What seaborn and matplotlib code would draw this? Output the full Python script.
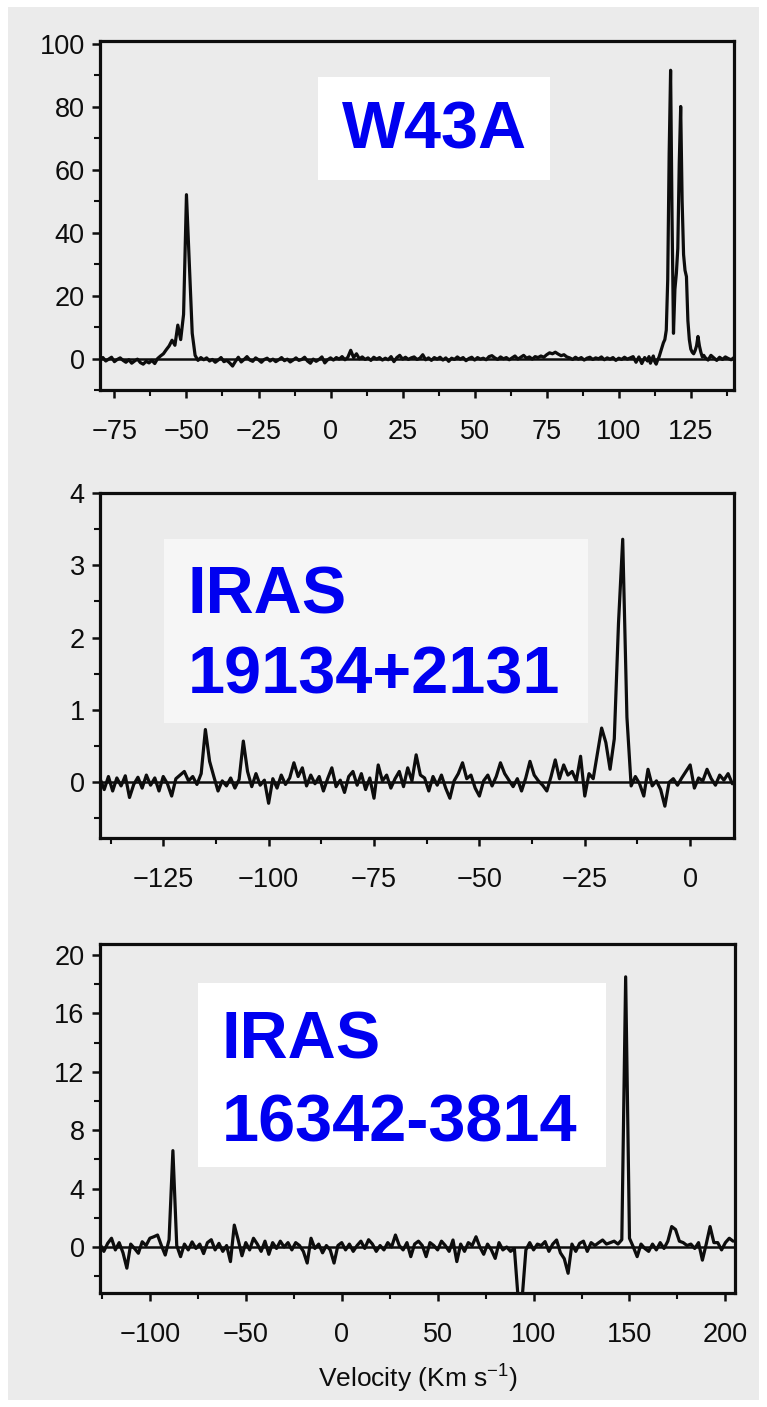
import numpy as np
import pandas as pd
import matplotlib
matplotlib.use("Agg")
import matplotlib.pyplot as plt
import seaborn as sns
from matplotlib.patches import Rectangle
from matplotlib.ticker import MultipleLocator

# ---------------- data ----------------
# W43A : velocity channels (km/s) and flux
vel_w43a = np.concatenate([np.arange(-80, 110, 1.0),
                           np.arange(110, 130, 0.5),
                           np.arange(130, 141, 1.0)])
flux_w43a = [
    -0.5, 0.3, -0.8, -0.2, 0.4, -1.0, -0.3, 0.2, -0.6, -1.2,
    -0.4, -1.5, -0.8, -0.2, -1.3, -1.8, -0.9, -1.4, -0.6, -1.6,
    0.0, 0.8, 1.5, 2.8, 4.0, 5.8, 4.2, 10.6, 6.0, 14.0,
    52.0, 30.0, 8.0, 1.0, -0.6, 0.3, -0.4, 0.2, -0.8, -0.3,
    -1.2, -0.5, 0.3, -1.0, -0.6, -1.4, -2.4, -0.9, 0.4, -1.1,
    -0.3, 0.6, -0.5, -0.9, 0.2, -0.4, -1.2, -0.3, 0.1, -0.8,
    -0.2, -1.0, -0.4, 0.3, -0.7, -0.2, -1.1, -0.5, 0.2, -0.6,
    -0.3, 0.4, -0.8, -1.5, -0.2, -0.9, -0.3, 0.5, -1.4, -0.4,
    0.2, -0.5, 0.3, -0.2, 0.6, -0.4, 0.4, 2.6, 0.3, 1.5,
    -0.1, 0.5, -0.3, 0.2, -0.6, 0.4, -0.2, 0.3, -0.5, 0.1,
    -0.4, 0.6, -1.0, 0.3, 1.0, -0.2, 0.4, -0.3, 0.2, 0.5,
    -0.3, 0.1, 1.2, -0.4, 0.2, -0.6, 0.3, -0.2, 0.4, -0.5,
    0.2, -0.9, 0.1, -0.3, 0.5, -0.2, 0.3, -0.7, 0.0, 0.4,
    -0.5, 0.3, -0.2, 0.1, -0.4, 0.6, 0.9, 0.2, -0.3, 0.5,
    -0.1, 0.3, -0.4, 0.2, 0.8, -0.2, 0.4, 1.0, 0.1, 0.5,
    -0.2, 0.6, 0.3, 0.8, 0.4, 1.2, 1.8, 1.5, 2.0, 1.4,
    0.9, 1.2, 0.5, 0.2, -0.3, 0.4, -0.2, 0.3, -0.5, 0.1,
    0.4, -0.3, 0.2, -0.1, 0.5, -0.4, 0.2, -0.2, 0.3, -0.6,
    0.1, -0.3, 0.4, -0.2, 0.2, 0.6, -1.2, 0.5, -1.6, 0.3,
    # 110 .. 129.5 (0.5 km/s channels)
    -0.8, 0.6, -1.5, -0.4, 0.8, -1.0, -1.8, -0.5, 0.5, 2.0,
    3.5, 5.0, 6.0, 9.0, 25.0, 65.0, 91.5, 45.0, 8.0, 22.0,
    27.0, 35.0, 62.0, 80.0, 50.0, 33.0, 28.0, 26.0, 12.0, 6.0,
    3.0, 2.0, 1.5, 2.5, 4.0, 7.0, 4.0, 2.0, 0.5, 1.0,
    # 130 .. 140
    0.3, -0.5, 1.0, 0.2, -0.6, 0.4, -0.3, 0.5, 0.0, -0.4, 0.3,
]

# IRAS 19134+2131
vel_19134 = np.arange(-140, 11, 1.0)
flux_19134 = [
    0.05, -0.10, 0.08, -0.12, 0.06, -0.05, 0.09, -0.21, -0.03, 0.07,
    -0.08, 0.10, -0.04, 0.06, -0.12, 0.08, -0.02, -0.19, 0.05, 0.10,
    0.15, 0.02, 0.08, -0.03, 0.12, 0.73, 0.29, 0.08, -0.12, 0.02,
    -0.05, 0.06, -0.08, 0.04, 0.57, 0.15, -0.06, 0.12, -0.04, 0.03,
    -0.29, 0.05, -0.08, 0.10, -0.03, 0.06, 0.27, 0.08, 0.20, -0.05,
    0.10, -0.02, 0.08, -0.12, 0.05, 0.20, -0.06, 0.03, -0.14, 0.08,
    0.15, -0.04, 0.12, -0.10, 0.06, -0.22, 0.24, 0.02, 0.10, -0.08,
    0.05, 0.15, -0.06, 0.20, 0.02, 0.38, 0.10, 0.06, -0.12, 0.08,
    -0.04, 0.10, -0.08, -0.22, 0.02, 0.12, 0.27, 0.05, 0.10, -0.08,
    -0.19, 0.02, 0.10, -0.05, 0.08, 0.27, 0.12, 0.03, -0.06, 0.05,
    -0.12, 0.06, 0.29, 0.10, 0.02, -0.04, -0.12, 0.08, 0.31, 0.05,
    0.24, 0.10, 0.15, 0.02, 0.36, -0.19, 0.12, 0.05, 0.40, 0.75,
    0.55, 0.18, 0.60, 2.20, 3.36, 0.90, -0.05, 0.08, -0.02, -0.19,
    0.18, -0.05, 0.02, -0.10, -0.33, 0.00, 0.05, -0.04, 0.06, 0.15,
    0.24, -0.08, 0.06, 0.02, 0.18, 0.05, -0.04, 0.10, 0.03, 0.12, -0.02,
]

# IRAS 16342-3814
vel_16342 = np.arange(-126, 205, 2.0)
flux_16342 = [
    0.2, -0.3, 0.25, 0.6, -0.2, 0.3, -0.4, -1.45, 0.2, -0.1,
    -0.43, 0.36, 0.1, 0.6, 0.7, 0.82, 0.1, -0.55, 0.5, 6.6,
    0.1, -0.66, 0.2, -0.2, 0.35, -0.1, 0.2, -0.45, 0.3, 0.5,
    -0.2, 0.25, -0.3, 0.1, -1.0, 1.5, 0.5, -0.6, 0.3, -0.2,
    0.6, 0.2, -0.3, 0.4, -0.5, 0.3, -0.1, 0.4, 0.0, 0.3,
    -0.2, 0.3, 0.1, -0.3, -1.1, 0.6, -0.1, 0.2, -0.4, 0.1,
    -0.2, -1.1, 0.1, 0.3, -0.2, 0.2, -0.3, 0.1, 0.4, -0.1,
    0.5, 0.2, -0.3, 0.1, -0.2, 0.3, 0.0, 0.82, 0.1, -0.2,
    0.3, -0.66, 0.2, 0.4, 0.1, -0.66, 0.3, 0.1, -0.2, 0.4,
    0.1, -0.3, 0.48, -1.0, 0.2, -0.3, 0.3, 0.1, 0.7, 0.0,
    -0.5, 0.2, -0.2, -0.78, 0.3, -0.2, 0.0, -0.3, -0.1, -3.6,
    -3.6, -0.2, 0.3, -0.2, 0.2, 0.1, 0.37, -0.3, 0.2, 0.48,
    -0.4, -0.8, -1.8, 0.2, -0.3, 0.25, 0.4, -0.3, 0.3, 0.1,
    0.3, 0.48, 0.2, 0.3, 0.4, 0.2, 0.5, 18.5, 0.6, 0.0,
    -0.66, 0.2, -0.1, -0.3, 0.2, -0.2, 0.3, -0.1, 0.4, 1.4,
    1.2, 0.4, 0.3, 0.1, 0.2, -0.1, 0.3, -0.9, 0.2, 1.4,
    0.3, 0.3, -0.2, 0.3, 0.6, 0.4,
]

names = ["W43A", "IRAS\n19134+2131", "IRAS\n16342-3814"]

# ---------------- style ----------------
sns.set_theme(style="ticks")
plt.rcParams["font.family"] = ["Liberation Sans", "DejaVu Sans"]
plt.rcParams["mathtext.fontset"] = "custom"
plt.rcParams["mathtext.rm"] = "Liberation Sans"
plt.rcParams["axes.unicode_minus"] = True

W, H = 767, 1407
fig = plt.figure(figsize=(W / 100, H / 100), dpi=100)
fig.patch.set_facecolor("white")
fig.add_artist(Rectangle((8 / W, 7 / H), (759 - 8) / W, (1400 - 7) / H,
                         transform=fig.transFigure, facecolor="#ebebeb",
                         edgecolor="none", zorder=-10))

BG = "#ebebeb"
INK = "#0d0d0d"
BLUE = "#0000f0"

def px_axes(left, top, right, bottom):
    return [left / W, 1 - bottom / H, (right - left) / W, (bottom - top) / H]

panels = [
    dict(vel=vel_w43a, flux=flux_w43a, rect=px_axes(100, 41, 734, 390),
         xlim=(-80, 140), ylim=(-10, 100.8), xmaj=25, xmin=12.5, ymaj=20, ymin=10,
         box=(0.344, 0.601, 0.366, 0.295, "#ffffff"),
         lines=[(names[0], 0.5276, 0.692, "center")]),
    dict(vel=vel_19134, flux=flux_19134, rect=px_axes(100, 493, 734, 838),
         xlim=(-140, 10.4), ylim=(-0.77, 4.0), xmaj=25, xmin=12.5, ymaj=1, ymin=0.5,
         box=(0.101, 0.333, 0.669, 0.534, "#f6f6f6"),
         lines=[("IRAS", 0.138, 0.652, "left"), ("19134+2131", 0.138, 0.420, "left")]),
    dict(vel=vel_16342, flux=flux_16342, rect=px_axes(100, 944, 735, 1293),
         xlim=(-126, 205), ylim=(-3.15, 20.75), xmaj=50, xmin=25, ymaj=4, ymin=2,
         box=(0.154, 0.361, 0.643, 0.527, "#ffffff"),
         lines=[("IRAS", 0.192, 0.673, "left"), ("16342-3814", 0.192, 0.433, "left")]),
]

for i, p in enumerate(panels):
    ax = fig.add_axes(p["rect"])
    ax.set_facecolor(BG)
    df = pd.DataFrame({"velocity": p["vel"], "flux": p["flux"]})
    sns.lineplot(data=df, x="velocity", y="flux", ax=ax, color=INK,
                 linewidth=2.3, estimator=None, sort=False, legend=False, zorder=3)
    ax.axhline(0, color=INK, linewidth=1.8, zorder=2)
    ax.set_xlim(*p["xlim"])
    ax.set_ylim(*p["ylim"])
    ax.xaxis.set_major_locator(MultipleLocator(p["xmaj"]))
    ax.xaxis.set_minor_locator(MultipleLocator(p["xmin"]))
    ax.yaxis.set_major_locator(MultipleLocator(p["ymaj"]))
    ax.yaxis.set_minor_locator(MultipleLocator(p["ymin"]))
    ax.tick_params(axis="both", which="major", direction="out", length=6,
                   width=1.8, color=INK, labelcolor=INK, labelsize=19.5)
    ax.tick_params(axis="both", which="minor", direction="out", length=4,
                   width=1.5, color=INK)
    ax.tick_params(axis="x", which="major", pad=15)
    ax.tick_params(axis="y", which="major", pad=5)
    for s in ax.spines.values():
        s.set_visible(True)
        s.set_linewidth(2.3)
        s.set_color(INK)
    ax.set_xlabel("")
    ax.set_ylabel("")
    bx, by, bw, bh, bc = p["box"]
    ax.add_patch(Rectangle((bx, by), bw, bh, transform=ax.transAxes,
                           facecolor=bc, edgecolor="none", zorder=1))
    for txt, tx, ty, ha in p["lines"]:
        ax.text(tx, ty, txt, transform=ax.transAxes, ha=ha, va="baseline",
                fontsize=48, fontweight="bold", color=BLUE, zorder=4)
    if i == 2:
        ax.set_xlabel("Velocity (Km s$^{\\mathregular{-1}}$)", fontsize=19,
                      color=INK, labelpad=9)

fig.savefig("out.png", dpi=100, facecolor=fig.get_facecolor())
